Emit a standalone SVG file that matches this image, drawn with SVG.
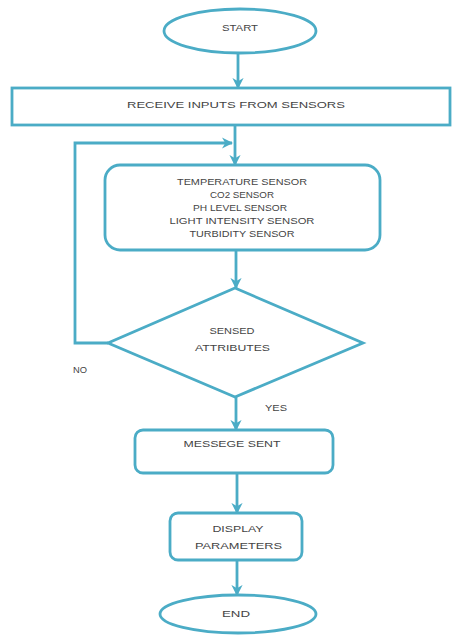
<svg xmlns="http://www.w3.org/2000/svg" width="453" height="642" viewBox="0 0 453 642">
<defs>
<marker id="ah" viewBox="0 0 10 10" refX="9" refY="5" markerWidth="4" markerHeight="4" orient="auto" markerUnits="strokeWidth">
<path d="M0,0 L10,5 L0,10 L3,5 Z" fill="#4bacc6"/>
</marker>
<style>
.s{fill:#fff;stroke:#4bacc6;stroke-width:2.8}
.c{fill:none;stroke:#4bacc6;stroke-width:2.8;marker-end:url(#ah)}
text{font-family:"Liberation Sans",Arial,sans-serif;font-size:8.5px;fill:#444;text-anchor:middle}
</style>
</defs>
<rect width="453" height="642" fill="#fff"/>
<g id="connectors">
<line class="c" x1="238" y1="53" x2="238" y2="88"/>
<line class="c" x1="235" y1="125" x2="235" y2="165"/>
<polyline class="c" points="108,343 75,343 75,143 232,143"/>
<line class="c" x1="236" y1="250" x2="236" y2="288"/>
<line class="c" x1="236" y1="397" x2="236" y2="430"/>
<line class="c" x1="237" y1="473" x2="237" y2="513"/>
<line class="c" x1="237" y1="560" x2="237" y2="595"/>
</g>
<g id="start">
<ellipse class="s" cx="240" cy="31" rx="76" ry="22"/>
<text x="240" y="30.5" textLength="36" lengthAdjust="spacingAndGlyphs">START</text>
</g>
<g id="receive">
<rect class="s" x="12" y="88" width="438" height="37"/>
<text x="236" y="107.5" textLength="218" lengthAdjust="spacingAndGlyphs">RECEIVE  INPUTS  FROM  SENSORS</text>
</g>
<g id="sensors">
<rect class="s" x="105" y="165" width="275" height="85" rx="15" ry="15"/>
<text x="242" y="184.5" textLength="130" lengthAdjust="spacingAndGlyphs">TEMPERATURE SENSOR</text>
<text x="242" y="197.5" textLength="64" lengthAdjust="spacingAndGlyphs">CO2 SENSOR</text>
<text x="240" y="210.5" textLength="94" lengthAdjust="spacingAndGlyphs">PH LEVEL SENSOR</text>
<text x="242" y="223.5" textLength="145" lengthAdjust="spacingAndGlyphs">LIGHT INTENSITY SENSOR</text>
<text x="242" y="237" textLength="105" lengthAdjust="spacingAndGlyphs">TURBIDITY SENSOR</text>
</g>
<g id="decision">
<polygon class="s" points="235,288 363,343 235,397 108,343"/>
<text x="232" y="333.5" textLength="45" lengthAdjust="spacingAndGlyphs">SENSED</text>
<text x="232.5" y="350.5" textLength="75" lengthAdjust="spacingAndGlyphs">ATTRIBUTES</text>
</g>
<g id="label-no">
<text x="80" y="372.5" textLength="14" lengthAdjust="spacingAndGlyphs">NO</text>
</g>
<g id="label-yes">
<text x="276" y="410.5" textLength="22" lengthAdjust="spacingAndGlyphs">YES</text>
</g>
<g id="message">
<rect class="s" x="135" y="430" width="198" height="43" rx="8" ry="8"/>
<text x="232" y="446.5" textLength="97" lengthAdjust="spacingAndGlyphs">MESSEGE  SENT</text>
</g>
<g id="display">
<rect class="s" x="170" y="513" width="132" height="47" rx="8" ry="8"/>
<text x="238" y="531.5" textLength="51" lengthAdjust="spacingAndGlyphs">DISPLAY</text>
<text x="238.5" y="548.5" textLength="87" lengthAdjust="spacingAndGlyphs">PARAMETERS</text>
</g>
<g id="end">
<ellipse class="s" cx="238" cy="614" rx="78" ry="19"/>
<text x="236" y="616.5" textLength="28" lengthAdjust="spacingAndGlyphs">END</text>
</g>
</svg>
